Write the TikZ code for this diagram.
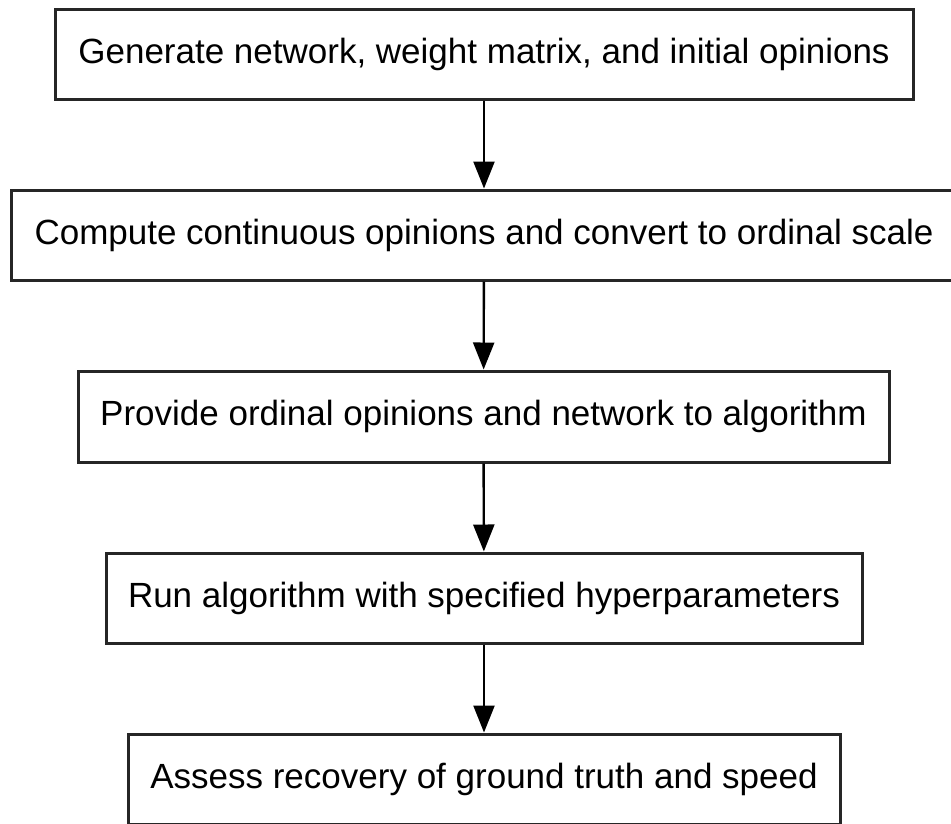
\documentclass[tikz,border=0pt]{standalone}
\usepackage{fontspec}
\setmainfont{Liberation Sans}
\usetikzlibrary{arrows.meta}
\begin{document}
\begin{tikzpicture}[x=1pt,y=-1pt,
  stepbox/.style={draw=black!85,line width=3pt,minimum height=90pt,inner sep=0pt,
    font=\fontsize{35}{41}\selectfont,text=black},
  flow/.style={line width=2.4pt,-{Triangle[length=27pt,width=21pt]}}]
\useasboundingbox (0,0) rectangle (951,823);
\clip (0,0) rectangle (951,823);
\node[stepbox,minimum width=858pt] (b1) at (484,54) {Generate network, weight matrix, and initial opinions};
\node[stepbox,minimum width=946pt] (b2) at (484,235) {Compute continuous opinions and convert to ordinal scale};
\node[stepbox,minimum width=811pt,minimum height=91pt] (b3) at (483.5,416.5) {Provide ordinal opinions and network to algorithm};
\node[stepbox,minimum width=756pt] (b4) at (484,598) {Run algorithm with specified hyperparameters};
\node[stepbox,minimum width=712pt] (b5) at (484,779) {Assess recovery of ground truth and speed};
\draw[flow] (b1) -- (b2);
\draw[flow] (b2) -- (b3);
\draw[flow] (b3) -- (b4);
\draw[flow] (b4) -- (b5);
\end{tikzpicture}
\end{document}
